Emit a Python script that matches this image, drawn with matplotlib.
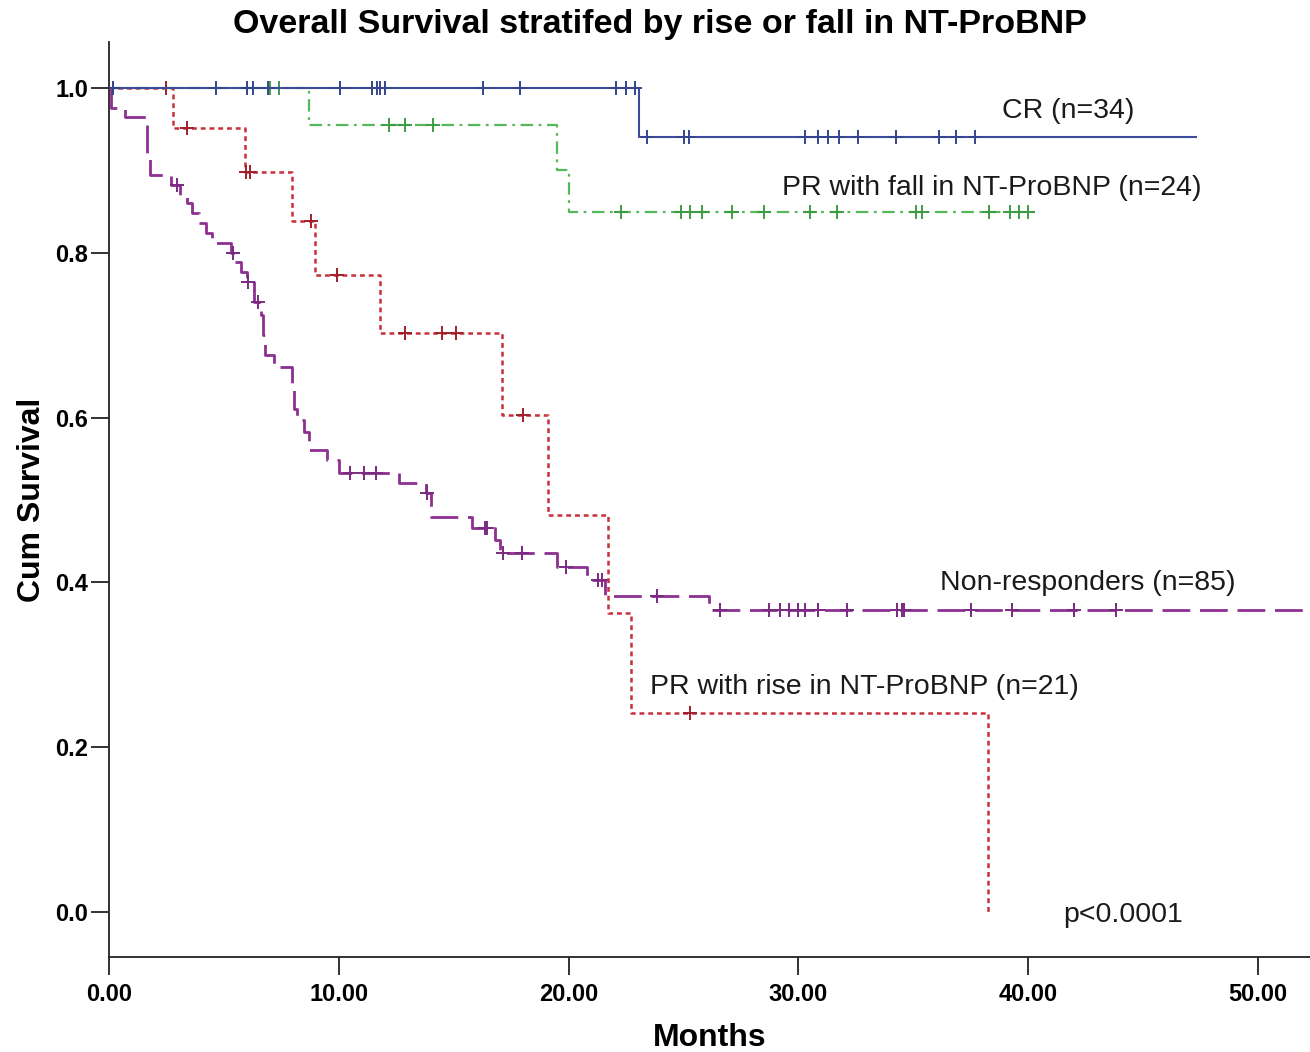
import numpy as np
import matplotlib
matplotlib.use("Agg")
import matplotlib.pyplot as plt

plt.rcParams['lines.scale_dashes'] = False

# ---------------- data (months, cumulative survival) ----------------
cr_times = [23.06]
cr_surv = [0.941]
cr_end = 47.3
cr_censor = [0.17, 4.66, 6.0, 6.27, 6.92, 10.05, 11.44, 11.66, 11.79, 12.01, 16.27,
             17.89, 22.06, 22.5, 22.89, 23.41, 25.02, 25.24, 30.29, 30.85, 31.29,
             31.77, 32.59, 34.25, 36.12, 36.86, 37.69]

fall_times = [8.7, 19.5, 20.0]
fall_surv = [0.955, 0.90, 0.85]
fall_end = 40.5
fall_censor = [0.17, 7.0, 7.4, 12.2, 12.9, 14.1, 22.3, 24.9, 25.3, 25.8, 27.1, 28.5,
               30.5, 31.7, 35.1, 35.4, 38.3, 39.2, 39.6, 40.0]

rise_times = [2.8, 5.9, 7.95, 8.97, 11.8, 17.1, 19.1, 21.7, 22.7, 38.25]
rise_surv = [0.952, 0.898, 0.838, 0.773, 0.703, 0.603, 0.482, 0.363, 0.2415, 0.0]
rise_end = 38.25
rise_censor = [2.5, 3.4, 5.95, 6.15, 8.8, 9.9, 12.9, 14.5, 15.1, 18.0, 25.3]

nr_times = [0.1, 0.7, 1.65, 1.8, 2.7, 3.1, 3.4, 3.6, 3.9, 4.2, 4.5, 5.3, 5.5, 5.75,
            6.0, 6.3, 6.6, 6.7, 6.8, 7.2, 7.95, 8.05, 8.2, 8.5, 8.7, 9.5, 10.0, 12.6,
            13.8, 14.0, 15.8, 16.8, 17.0, 19.5, 20.8, 21.6, 26.1]
nr_surv = [0.976, 0.965, 0.915, 0.894, 0.882, 0.870, 0.860, 0.848, 0.836, 0.824,
           0.812, 0.800, 0.789, 0.777, 0.765, 0.740, 0.725, 0.700, 0.676, 0.661,
           0.635, 0.610, 0.597, 0.583, 0.561, 0.549, 0.533, 0.521, 0.508, 0.479,
           0.466, 0.451, 0.436, 0.419, 0.403, 0.383, 0.366]
nr_end = 53.0
nr_censor = [2.95, 5.4, 6.05, 6.5, 10.5, 11.1, 11.6, 13.84, 16.36, 16.45, 17.15,
             17.98, 19.9, 21.3, 21.45, 23.85, 26.6, 28.7, 29.2, 29.6, 30.0, 30.3,
             30.85, 32.1, 34.3, 34.5, 34.6, 37.5, 39.3, 42.0, 43.8]

labels = ["CR (n=34)", "PR with fall in NT-ProBNP (n=24)",
          "Non-responders (n=85)", "PR with rise in NT-ProBNP (n=21)"]
label_pos = [(38.86, 0.972), (29.29, 0.879), (36.16, 0.399), (23.54, 0.273)]
pval_text = "p<0.0001"
pval_pos = (41.52, -0.004)

xticks = [0, 10, 20, 30, 40, 50]
yticks = [0.0, 0.2, 0.4, 0.6, 0.8, 1.0]

# ---------------- figure ----------------
fig = plt.figure(figsize=(13.1, 10.52), dpi=100)
ax = fig.add_axes([109/1310, 95/1052, 1 - 109/1310, 915/1052])
ax.set_xlim(0, (1310 - 109) / 22.98)
ax.set_ylim(-(957 - 912) / 824, (912 - 42) / 824)


def surv_at(times, surv, t):
    t_arr = np.array([0.0] + list(times))
    s_arr = np.array([1.0] + list(surv))
    idx = np.searchsorted(t_arr, t, side='right') - 1
    return s_arr[idx]


def draw(times, surv, end, censor, color, dashes, lw, mcolor, z):
    x = [0.0] + list(times) + [end]
    y = [1.0] + list(surv) + [surv[-1]]
    line, = ax.step(x, y, where='post', color=color, lw=lw, zorder=z)
    if dashes is not None:
        line.set_dashes(dashes)
    cy = [surv_at(times, surv, t) for t in censor]
    ax.plot(censor, cy, linestyle='none', marker='+', ms=10, mew=1.4,
            color=mcolor, zorder=z + 0.1)


draw(nr_times, nr_surv, nr_end, nr_censor, '#8e2f92', (20, 7), 2.0, '#7a2a80', 2)
draw(rise_times, rise_surv, rise_end, rise_censor, '#c9303a', (3.5, 2.8), 1.8, '#a0202a', 3)
draw(fall_times, fall_surv, fall_end, fall_censor, '#55b95b', (9, 4, 2, 4), 1.6, '#3c9c46', 4)
draw(cr_times, cr_surv, cr_end, cr_censor, '#3b4c9c', None, 1.5, '#34448f', 5)

txt_font = dict(family=['Liberation Sans', 'DejaVu Sans'], fontsize=20.5, color='#1a1a1a')
for lab, (lx, ly) in zip(labels, label_pos):
    ax.text(lx, ly, lab, ha='left', va='center', **txt_font)
ax.text(pval_pos[0], pval_pos[1], pval_text, ha='left', va='center', **txt_font)

# axes styling
for s in ['top', 'right']:
    ax.spines[s].set_visible(False)
for s in ['left', 'bottom']:
    ax.spines[s].set_color('#222222')
    ax.spines[s].set_linewidth(1.3)

fam = ['Liberation Sans', 'DejaVu Sans']
ax.set_xticks(xticks)
ax.set_xticklabels([f"{v:.2f}" for v in xticks])
ax.set_yticks(yticks)
ax.set_yticklabels([f"{v:.1f}" for v in yticks])
ax.tick_params(axis='both', direction='out', length=13, width=1.3, color='#222222',
               labelsize=17)
ax.tick_params(axis='y', pad=2)
ax.tick_params(axis='x', pad=6)
for t in ax.get_xticklabels() + ax.get_yticklabels():
    t.set_fontweight('bold')
    t.set_family(fam)

ax.set_xlabel("Months", fontsize=23, fontweight='bold', family=fam, labelpad=12)
ax.set_ylabel("Cum Survival", fontsize=23, fontweight='bold', family=fam, labelpad=6)

fig.text(660 / 1310, 1 - 25 / 1052, "Overall Survival stratifed by rise or fall in NT-ProBNP",
         ha='center', va='center', fontsize=24.5, fontweight='bold', family=fam)

fig.savefig("out.png", dpi=100)
